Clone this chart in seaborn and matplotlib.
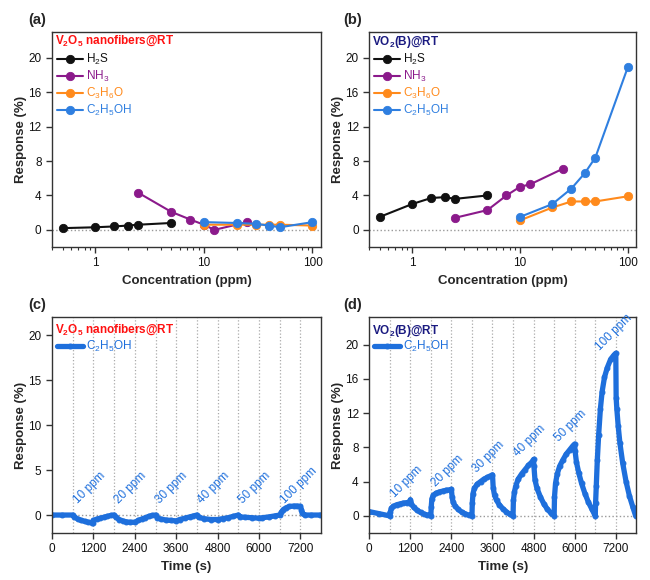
import matplotlib
matplotlib.use('Agg')
import matplotlib.pyplot as plt
import seaborn as sns

# gas concentrations (ppm)
h2s_ppm = [0.5, 1, 1.5, 2, 2.5, 5]
nh3_ppm = [2.5, 5, 7.5, 10, 12.5, 25]
voc_ppm = [10, 20, 30, 40, 50, 100]

# responses (%) of V2O5 nanofibers at RT
v2o5_h2s = [0.2, 0.3, 0.4, 0.5, 0.6, 0.8]
v2o5_nh3 = [4.3, 2.1, 1.2, 0.6, 0.0, 0.9]
v2o5_acetone = [0.6, 0.6, 0.6, 0.6, 0.6, 0.5]
v2o5_ethanol = [0.9, 0.8, 0.7, 0.5, 0.3, 0.9]

# responses (%) of VO2(B) at RT
vo2_h2s = [1.5, 3.0, 3.7, 3.8, 3.6, 4.0]
vo2_nh3 = [1.4, 2.3, 4.0, 5.0, 5.3, 7.1]
vo2_acetone = [1.1, 2.6, 3.3, 3.3, 3.3, 3.9]
vo2_ethanol = [1.5, 3.0, 4.8, 6.6, 8.4, 18.9]

# dynamic ethanol response, V2O5 nanofibers
time_v2o5 = [0, 300, 600, 650, 750, 850, 950, 1050, 1150, 1190,
             1200, 1300, 1400, 1500, 1600, 1700, 1800,
             1850, 1950, 2050, 2150, 2250, 2400,
             2500, 2600, 2700, 2800, 2900, 3000,
             3050, 3150, 3300, 3450, 3600,
             3700, 3850, 4000, 4100, 4200,
             4250, 4400, 4600, 4800,
             4950, 5100, 5250, 5400,
             5450, 5600, 5800, 6000,
             6100, 6300, 6450, 6600,
             6650, 6700, 6780, 6880, 7000, 7100, 7200,
             7230, 7260, 7320, 7500, 7780]
resp_v2o5 = [0.0, 0.0, 0.0, -0.2, -0.45, -0.6, -0.7, -0.8, -0.85, -0.9,
             -0.6, -0.45, -0.35, -0.25, -0.15, -0.05, 0.0,
             -0.25, -0.5, -0.65, -0.75, -0.8, -0.8,
             -0.6, -0.45, -0.3, -0.15, -0.05, 0.0,
             -0.3, -0.45, -0.55, -0.6, -0.65,
             -0.5, -0.35, -0.2, -0.1, 0.0,
             -0.25, -0.4, -0.5, -0.5,
             -0.4, -0.3, -0.15, 0.0,
             -0.2, -0.25, -0.3, -0.35,
             -0.3, -0.2, -0.1, 0.0,
             0.3, 0.6, 0.8, 0.95, 1.0, 1.0, 0.95,
             0.6, 0.2, 0.0, 0.0, 0.0]

# dynamic ethanol response, VO2(B)
time_vo2 = [0, 300, 600,
            610, 650, 700, 800, 900, 1000, 1100, 1190, 1200,
            1230, 1300, 1400, 1500, 1600, 1700, 1800,
            1810, 1830, 1870, 1950, 2050, 2150, 2250, 2350, 2400,
            2420, 2450, 2500, 2600, 2700, 2800, 2900, 3000,
            3010, 3030, 3070, 3150, 3250, 3350, 3450, 3550, 3600,
            3620, 3660, 3720, 3800, 3900, 4000, 4100, 4200,
            4210, 4240, 4280, 4350, 4450, 4550, 4650, 4750, 4800,
            4810, 4840, 4900, 5000, 5100, 5200, 5300, 5400,
            5410, 5440, 5490, 5560, 5650, 5750, 5850, 5950, 6000,
            6010, 6050, 6120, 6200, 6300, 6400, 6500, 6600,
            6610, 6630, 6660, 6700, 6750, 6800, 6870, 6950, 7050, 7150, 7200,
            7210, 7230, 7270, 7320, 7400, 7500, 7600, 7700, 7780]
resp_vo2 = [0.5, 0.25, 0.0,
            0.4, 0.9, 1.1, 1.3, 1.4, 1.5, 1.55, 1.6, 1.9,
            1.4, 1.0, 0.65, 0.4, 0.22, 0.1, 0.0,
            1.0, 2.0, 2.4, 2.65, 2.8, 2.9, 3.0, 3.05, 3.1,
            2.2, 1.6, 1.2, 0.75, 0.45, 0.25, 0.1, 0.0,
            1.5, 2.6, 3.2, 3.7, 4.0, 4.3, 4.5, 4.7, 4.8,
            3.3, 2.4, 1.8, 1.3, 0.85, 0.5, 0.2, 0.0,
            1.8, 2.8, 3.5, 4.3, 4.9, 5.4, 5.9, 6.3, 6.6,
            5.8, 4.2, 3.2, 2.2, 1.4, 0.8, 0.35, 0.0,
            2.2, 3.8, 4.9, 5.8, 6.5, 7.2, 7.7, 8.2, 8.4,
            7.6, 6.3, 5.0, 3.8, 2.6, 1.6, 0.8, 0.0,
            1.5, 3.5, 6.5, 9.5, 12.5, 14.5, 16.2, 17.3, 18.3, 18.8, 19.0,
            13.8, 12.5, 10.5, 8.5, 6.2, 4.0, 2.3, 1.0, 0.0]

# gas on/off times (s) and ethanol concentrations of each pulse
gas_on = [600, 1800, 3000, 4200, 5400, 6600]
gas_off = [1200, 2400, 3600, 4800, 6000, 7200]
pulse_labels = ['10 ppm', '20 ppm', '30 ppm', '40 ppm', '50 ppm', '100 ppm']

gas_names = ['H$_2$S', 'NH$_3$', 'C$_3$H$_6$O', 'C$_2$H$_5$OH']
gas_colors = ['#111111', '#8B1A8B', '#FF8A1C', '#2F7FE0']
ts_color = '#1E6FDC'

sns.set_theme(style='ticks')
plt.rcParams['font.family'] = ['Liberation Sans', 'DejaVu Sans']
plt.rcParams['mathtext.default'] = 'regular'
plt.rcParams['axes.edgecolor'] = '#333333'
plt.rcParams['axes.linewidth'] = 1.0
plt.rcParams['xtick.color'] = '#333333'
plt.rcParams['ytick.color'] = '#333333'
plt.rcParams['xtick.labelcolor'] = '#111111'
plt.rcParams['ytick.labelcolor'] = '#111111'

fig = plt.figure(figsize=(6.5, 5.8), dpi=100)
ax_a = fig.add_axes([0.080, 0.574, 0.414, 0.371])
ax_b = fig.add_axes([0.568, 0.574, 0.411, 0.371])
ax_c = fig.add_axes([0.080, 0.081, 0.414, 0.372])
ax_d = fig.add_axes([0.568, 0.081, 0.411, 0.372])


def add_header(ax, title, title_color, title_y, legend_y):
    ax.text(0.01, title_y, title, transform=ax.transAxes, va='top', ha='left',
            color=title_color, fontsize=8.5, fontweight='bold')
    leg = ax.legend(loc='upper left', bbox_to_anchor=(0.0, legend_y), frameon=False,
                    fontsize=8.5, handlelength=2.2, handletextpad=0.3,
                    labelspacing=0.15, borderaxespad=0)
    for text, line in zip(leg.get_texts(), leg.get_lines()):
        text.set_color(line.get_color())


def concentration_panel(ax, series, title, title_color):
    xs = [h2s_ppm, nh3_ppm, voc_ppm, voc_ppm]
    for x, y, name, col in zip(xs, series, gas_names, gas_colors):
        sns.lineplot(x=x, y=y, ax=ax, color=col, marker='o', markersize=6,
                     markeredgecolor=col, markeredgewidth=0.6, linewidth=1.5,
                     label=name, estimator=None)
    ax.axhline(0, color='#999999', ls=':', lw=1, zorder=0)
    ax.set_xscale('log')
    ax.set_xlim(0.4, 120)
    ax.set_ylim(-2, 23)
    ax.set_yticks([0, 4, 8, 12, 16, 20])
    ax.set_xticks([1, 10, 100])
    ax.set_xticklabels(['1', '10', '100'])
    ax.set_xlabel('Concentration (ppm)', fontsize=9.5, fontweight='bold')
    ax.set_ylabel('Response (%)', fontsize=9.5, fontweight='bold')
    add_header(ax, title, title_color, 0.992, 0.928)


def time_panel(ax, t, r, title, title_color, yticks, ymax, label_y):
    sns.lineplot(x=t, y=r, ax=ax, color=ts_color, marker='o', markersize=3.5,
                 markeredgecolor=ts_color, linewidth=3.8, label=gas_names[3],
                 estimator=None)
    for v in sorted(gas_on + gas_off):
        ax.axvline(v, color='#aaaaaa', ls=':', lw=0.9, zorder=0)
    ax.axhline(0, color='#999999', ls=':', lw=1, zorder=0)
    ax.set_xlim(0, 7800)
    ax.set_ylim(-2, ymax)
    ax.set_xticks([0, 1200, 2400, 3600, 4800, 6000, 7200])
    ax.set_yticks(yticks)
    ax.set_xlabel('Time (s)', fontsize=9.5, fontweight='bold')
    ax.set_ylabel('Response (%)', fontsize=9.5, fontweight='bold')
    for start, lab, y in zip(gas_on, pulse_labels, label_y):
        ax.text(start + 200, y, lab, rotation=45, rotation_mode='anchor',
                ha='left', va='bottom', color=ts_color, fontsize=8.5)
    add_header(ax, title, title_color, 0.975, 0.92)


concentration_panel(ax_a, [v2o5_h2s, v2o5_nh3, v2o5_acetone, v2o5_ethanol],
                    'V$_2$O$_5$ nanofibers@RT', '#FF1010')
concentration_panel(ax_b, [vo2_h2s, vo2_nh3, vo2_acetone, vo2_ethanol],
                    'VO$_2$(B)@RT', '#1A1A80')

# labels sit just above each pulse
peaks_vo2 = []
for on, off in zip(gas_on, gas_off):
    peaks_vo2.append(max(r for t, r in zip(time_vo2, resp_vo2) if on <= t <= off + 5))
time_panel(ax_c, time_v2o5, resp_v2o5, 'V$_2$O$_5$ nanofibers@RT', '#FF1010',
           [0, 5, 10, 15, 20], 22, [1.0] * 6)
time_panel(ax_d, time_vo2, resp_vo2, 'VO$_2$(B)@RT', '#1A1A80',
           [0, 4, 8, 12, 16, 20], 23.2, [p for p in peaks_vo2])

for ax in [ax_a, ax_b, ax_c, ax_d]:
    ax.tick_params(axis='both', which='major', labelsize=8.5, length=4, width=1, direction='out')
    ax.tick_params(axis='both', which='minor', length=2.5, width=0.8, direction='out')
    ax.xaxis.labelpad = 4
    ax.yaxis.labelpad = 1

for lab, x, y in [('(a)', 0.043, 0.966), ('(b)', 0.528, 0.966),
                  ('(c)', 0.043, 0.474), ('(d)', 0.528, 0.474)]:
    fig.text(x, y, lab, fontsize=10.5, fontweight='bold', va='center', ha='left')

fig.savefig('out.png', dpi=100)
